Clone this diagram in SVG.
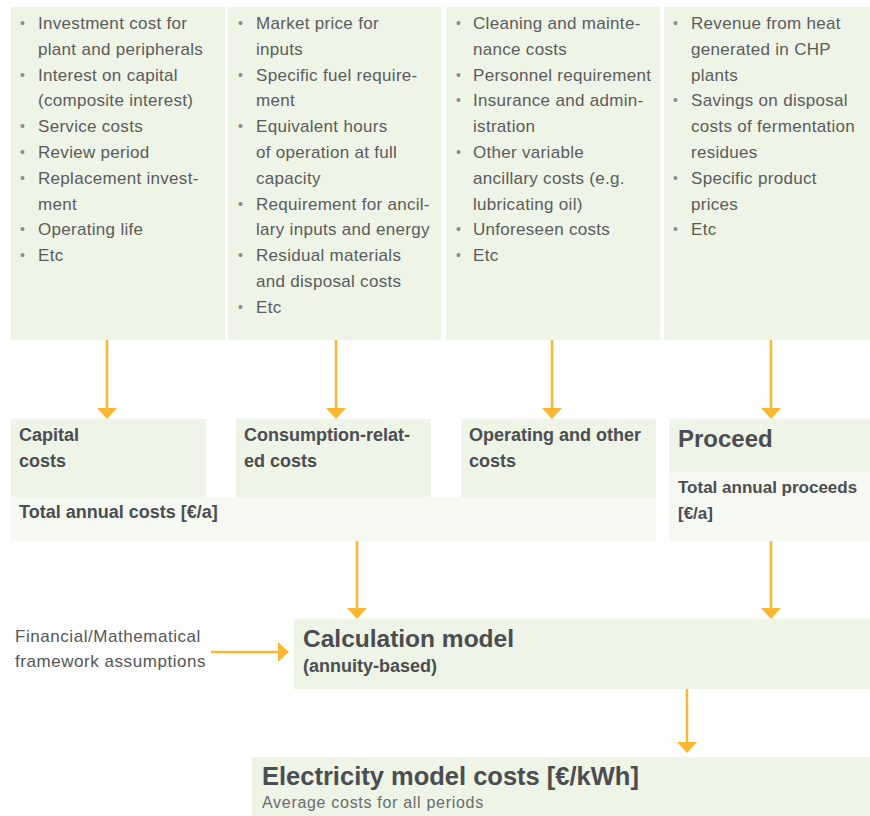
<svg xmlns="http://www.w3.org/2000/svg" width="870" height="816" viewBox="0 0 870 816">
<style>
.box{fill:#eef4e6}
.lbox{fill:#f6f9f1}
.body{font-family:"Liberation Sans",Arial,sans-serif;font-size:17px;letter-spacing:0.3px;fill:#5b5c5c}
.bul{font-family:"Liberation Sans",Arial,sans-serif;font-size:14px;fill:#8a8b8b}
.h{font-family:"Liberation Sans",Arial,sans-serif;font-weight:bold;font-size:18px;fill:#4b4d50}
.big{font-family:"Liberation Sans",Arial,sans-serif;font-weight:bold;font-size:24px;fill:#4b4d50}
.fin{font-family:"Liberation Sans",Arial,sans-serif;font-size:17px;letter-spacing:0.55px;fill:#555657}
.sub{font-family:"Liberation Sans",Arial,sans-serif;font-size:16px;letter-spacing:0.7px;fill:#6a6b6b}
.arr{stroke:#fbb731;stroke-width:2.5;fill:none}
</style>
<defs>
<marker id="ah" viewBox="0 0 11 20" refX="0" refY="10" markerWidth="11" markerHeight="20" markerUnits="userSpaceOnUse" orient="auto">
<path d="M0,0 L11,10 L0,20 z" fill="#fbb731"/>
</marker>
</defs>
<rect width="870" height="816" fill="#ffffff"/>

<g id="capital-factors">
<rect class="box" x="11" y="7" width="214" height="333"/>
<text class="bul" x="20" y="28">•</text>
<text class="body" x="38" y="29">Investment cost for</text>
<text class="body" x="38" y="54.8">plant and peripherals</text>
<text class="bul" x="20" y="79.6">•</text>
<text class="body" x="38" y="80.6">Interest on capital</text>
<text class="body" x="38" y="106.4">(composite interest)</text>
<text class="bul" x="20" y="131.2">•</text>
<text class="body" x="38" y="132.2">Service costs</text>
<text class="bul" x="20" y="157">•</text>
<text class="body" x="38" y="158">Review period</text>
<text class="bul" x="20" y="182.8">•</text>
<text class="body" x="38" y="183.8">Replacement invest-</text>
<text class="body" x="38" y="209.6">ment</text>
<text class="bul" x="20" y="234.4">•</text>
<text class="body" x="38" y="235.4">Operating life</text>
<text class="bul" x="20" y="260.2">•</text>
<text class="body" x="38" y="261.2">Etc</text>
</g>

<g id="consumption-factors">
<rect class="box" x="228" y="7" width="213" height="333"/>
<text class="bul" x="238" y="28">•</text>
<text class="body" x="256" y="29">Market price for</text>
<text class="body" x="256" y="54.8">inputs</text>
<text class="bul" x="238" y="79.6">•</text>
<text class="body" x="256" y="80.6">Specific fuel require-</text>
<text class="body" x="256" y="106.4">ment</text>
<text class="bul" x="238" y="131.2">•</text>
<text class="body" x="256" y="132.2">Equivalent hours</text>
<text class="body" x="256" y="158">of operation at full</text>
<text class="body" x="256" y="183.8">capacity</text>
<text class="bul" x="238" y="208.6">•</text>
<text class="body" x="256" y="209.6">Requirement for ancil-</text>
<text class="body" x="256" y="235.4">lary inputs and energy</text>
<text class="bul" x="238" y="260.2">•</text>
<text class="body" x="256" y="261.2">Residual materials</text>
<text class="body" x="256" y="287">and disposal costs</text>
<text class="bul" x="238" y="311.8">•</text>
<text class="body" x="256" y="312.8">Etc</text>
</g>

<g id="operating-factors">
<rect class="box" x="446" y="7" width="214" height="333"/>
<text class="bul" x="456" y="28">•</text>
<text class="body" x="473" y="29">Cleaning and mainte-</text>
<text class="body" x="473" y="54.8">nance costs</text>
<text class="bul" x="456" y="79.6">•</text>
<text class="body" x="473" y="80.6">Personnel requirement</text>
<text class="bul" x="456" y="105.4">•</text>
<text class="body" x="473" y="106.4">Insurance and admin-</text>
<text class="body" x="473" y="132.2">istration</text>
<text class="bul" x="456" y="157">•</text>
<text class="body" x="473" y="158">Other variable</text>
<text class="body" x="473" y="183.8">ancillary costs (e.g.</text>
<text class="body" x="473" y="209.6">lubricating oil)</text>
<text class="bul" x="456" y="234.4">•</text>
<text class="body" x="473" y="235.4">Unforeseen costs</text>
<text class="bul" x="456" y="260.2">•</text>
<text class="body" x="473" y="261.2">Etc</text>
</g>

<g id="proceed-factors">
<rect class="box" x="664" y="7" width="206" height="333"/>
<text class="bul" x="673" y="28">•</text>
<text class="body" x="691" y="29">Revenue from heat</text>
<text class="body" x="691" y="54.8">generated in CHP</text>
<text class="body" x="691" y="80.6">plants</text>
<text class="bul" x="673" y="105.4">•</text>
<text class="body" x="691" y="106.4">Savings on disposal</text>
<text class="body" x="691" y="132.2">costs of fermentation</text>
<text class="body" x="691" y="158">residues</text>
<text class="bul" x="673" y="182.8">•</text>
<text class="body" x="691" y="183.8">Specific product</text>
<text class="body" x="691" y="209.6">prices</text>
<text class="bul" x="673" y="234.4">•</text>
<text class="body" x="691" y="235.4">Etc</text>
</g>

<g id="total-annual-costs">
<rect class="lbox" x="11" y="497" width="645" height="44"/>
<text class="h" x="19" y="518">Total annual costs [€/a]</text>
</g>

<g id="capital-costs">
<rect class="box" x="11" y="419" width="195" height="78"/>
<text class="h" x="19" y="441">Capital</text>
<text class="h" x="19" y="467">costs</text>
</g>

<g id="consumption-costs">
<rect class="box" x="236" y="419" width="195" height="78"/>
<text class="h" x="244" y="441">Consumption-relat-</text>
<text class="h" x="244" y="467">ed costs</text>
</g>

<g id="operating-costs">
<rect class="box" x="461" y="419" width="195" height="78"/>
<text class="h" x="469" y="441">Operating and other</text>
<text class="h" x="469" y="467">costs</text>
</g>

<g id="proceed">
<rect class="lbox" x="669" y="472" width="201" height="69"/>
<rect class="box" x="669" y="419" width="201" height="53"/>
<text class="big" x="678" y="447">Proceed</text>
<text class="h" x="678" y="493" style="font-size:17px">Total annual proceeds</text>
<text class="h" x="678" y="519" style="font-size:17px">[€/a]</text>
</g>

<g id="framework-assumptions">
<text class="fin" x="15" y="642">Financial/Mathematical</text>
<text class="fin" x="15" y="667">framework assumptions</text>
</g>

<g id="calculation-model">
<rect class="box" x="294" y="619" width="576" height="70"/>
<text class="big" x="303" y="647" style="font-size:24.5px">Calculation model</text>
<text class="h" x="303" y="672">(annuity-based)</text>
</g>

<g id="electricity-costs">
<rect class="box" x="252" y="757" width="618" height="59"/>
<text class="big" x="262" y="785" style="font-size:25.5px">Electricity model costs [€/kWh]</text>
<text class="sub" x="262" y="808">Average costs for all periods</text>
</g>

<g id="connectors">
<line class="arr" x1="107" y1="340" x2="107" y2="408" marker-end="url(#ah)"/>
<line class="arr" x1="336" y1="340" x2="336" y2="408" marker-end="url(#ah)"/>
<line class="arr" x1="552" y1="340" x2="552" y2="408" marker-end="url(#ah)"/>
<line class="arr" x1="771" y1="340" x2="771" y2="408" marker-end="url(#ah)"/>
<line class="arr" x1="357" y1="541" x2="357" y2="608" marker-end="url(#ah)"/>
<line class="arr" x1="771" y1="541" x2="771" y2="608" marker-end="url(#ah)"/>
<line class="arr" x1="211" y1="652" x2="278" y2="652" marker-end="url(#ah)"/>
<line class="arr" x1="687" y1="689" x2="687" y2="742" marker-end="url(#ah)"/>
</g>
</svg>
